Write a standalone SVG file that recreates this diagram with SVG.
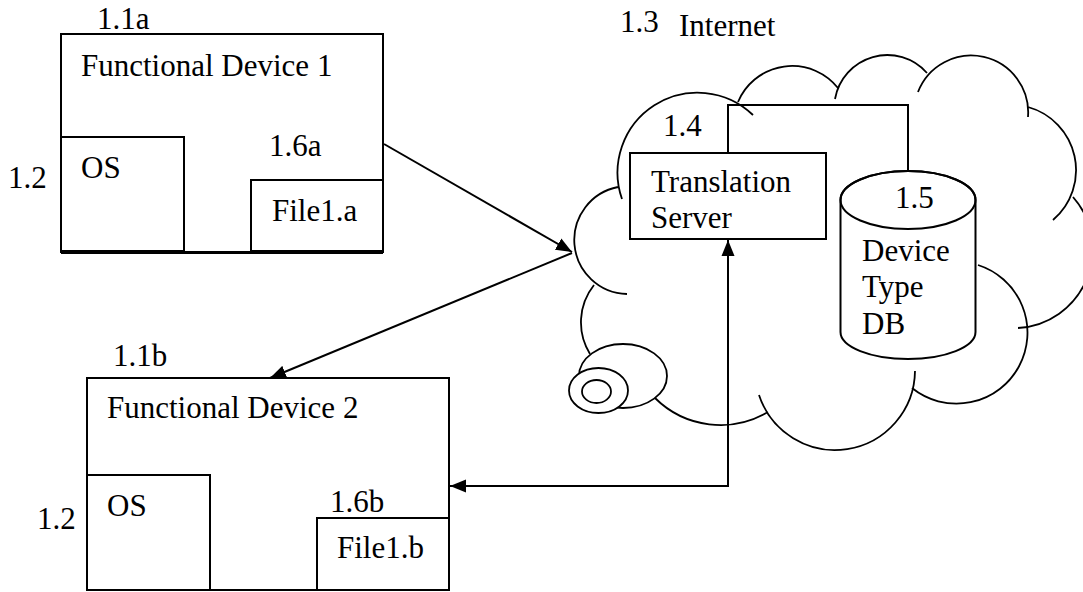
<svg xmlns="http://www.w3.org/2000/svg" width="1083" height="592" viewBox="0 0 1083 592">
  <style>
    .box { fill: #ffffff; stroke: #000000; stroke-width: 2; }
    .line { fill: none; stroke: #000000; stroke-width: 2; }
    .cloud { fill: none; stroke: #000000; stroke-width: 1.8; }
    .bubble { fill: #ffffff; stroke: #000000; stroke-width: 1.8; }
    .label { font-family: "Liberation Serif", "Times New Roman", serif; font-size: 31px; fill: #000000; }
  </style>
  <defs>
    <marker id="arrow" markerUnits="userSpaceOnUse" markerWidth="17" markerHeight="14" refX="16" refY="7" orient="auto-start-reverse">
      <path d="M0,0.5 L16,7 L0,13.5 z" fill="#000000"/>
    </marker>
  </defs>

  <rect width="1083" height="592" fill="#ffffff"/>

  <!-- Internet cloud: overlapping scallop arcs plus thought bubbles -->
  <g id="internet">
    <path class="cloud" d="M 622,199 A 80 80 0 0 1 753,115
      M 618,187 A 54 54 0 0 0 627,294
      M 594,285 A 60 60 0 0 0 590,354
      M 655,398 A 93 93 0 0 0 768,412
      M 759,395 A 80 80 0 0 0 915,371
      M 912,388 A 71 71 0 1 0 978,265
      M 1018,328 A 79 79 0 0 0 1073,197
      M 1028,107 A 65.5 65.5 0 0 1 1053,220
      M 918,92 A 57 57 0 0 1 1028,117
      M 835,99 A 53 53 0 0 1 927,73
      M 738,102 A 58.7 58.7 0 0 1 838,88"/>
    <ellipse class="bubble" cx="623" cy="376" rx="44" ry="32"/>
    <ellipse class="bubble" cx="598.5" cy="390.5" rx="29.5" ry="22.5"/>
    <ellipse class="bubble" cx="596.5" cy="391.5" rx="14.5" ry="11.5"/>
    <text class="label" x="620" y="32">1.3</text>
    <text class="label" x="679" y="36">Internet</text>
  </g>

  <!-- Connectors -->
  <g id="connectors">
    <line class="line" x1="384" y1="144" x2="572" y2="252" marker-end="url(#arrow)"/>
    <line class="line" x1="572" y1="253" x2="270" y2="378" marker-end="url(#arrow)"/>
    <polyline class="line" points="450,486 728,486 728,240" marker-start="url(#arrow)" marker-end="url(#arrow)"/>
    <polyline class="line" points="728,153 728,105 908,105 908,172"/>
  </g>

  <!-- Functional Device 1 -->
  <g id="device1">
    <rect class="box" x="61" y="34" width="322" height="218"/>
    <line class="line" x1="61" y1="253" x2="383" y2="253"/>
    <rect class="box" x="61" y="137" width="123" height="114"/>
    <rect class="box" x="251" y="180" width="132" height="71"/>
    <text class="label" x="97" y="29">1.1a</text>
    <text class="label" x="81" y="76">Functional Device 1</text>
    <text class="label" x="81" y="178">OS</text>
    <text class="label" x="8" y="188">1.2</text>
    <text class="label" x="269" y="156">1.6a</text>
    <text class="label" x="272" y="221">File1.a</text>
  </g>

  <!-- Functional Device 2 -->
  <g id="device2">
    <rect class="box" x="87" y="378" width="362" height="212"/>
    <rect class="box" x="87" y="475" width="123" height="115"/>
    <rect class="box" x="317" y="518" width="132" height="72"/>
    <text class="label" x="113" y="366">1.1b</text>
    <text class="label" x="107" y="418">Functional Device 2</text>
    <text class="label" x="107" y="516">OS</text>
    <text class="label" x="37" y="529">1.2</text>
    <text class="label" x="330" y="512">1.6b</text>
    <text class="label" x="337" y="558">File1.b</text>
  </g>

  <!-- Translation Server -->
  <g id="translation-server">
    <rect class="box" x="630" y="153" width="196" height="86"/>
    <text class="label" x="663" y="136">1.4</text>
    <text class="label" x="651" y="192">Translation</text>
    <text class="label" x="651" y="228">Server</text>
  </g>

  <!-- Device Type DB (cylinder) -->
  <g id="device-type-db">
    <path class="box" d="M 840.5,200 L 840.5,332 A 67.5 27 0 0 0 975.5,332 L 975.5,200 A 67.5 29 0 0 0 840.5,200 Z"/>
    <ellipse class="line" cx="908" cy="200" rx="67.5" ry="29"/>
    <text class="label" x="895" y="208">1.5</text>
    <text class="label" x="862" y="261">Device</text>
    <text class="label" x="862" y="297">Type</text>
    <text class="label" x="862" y="334">DB</text>
  </g>
</svg>
